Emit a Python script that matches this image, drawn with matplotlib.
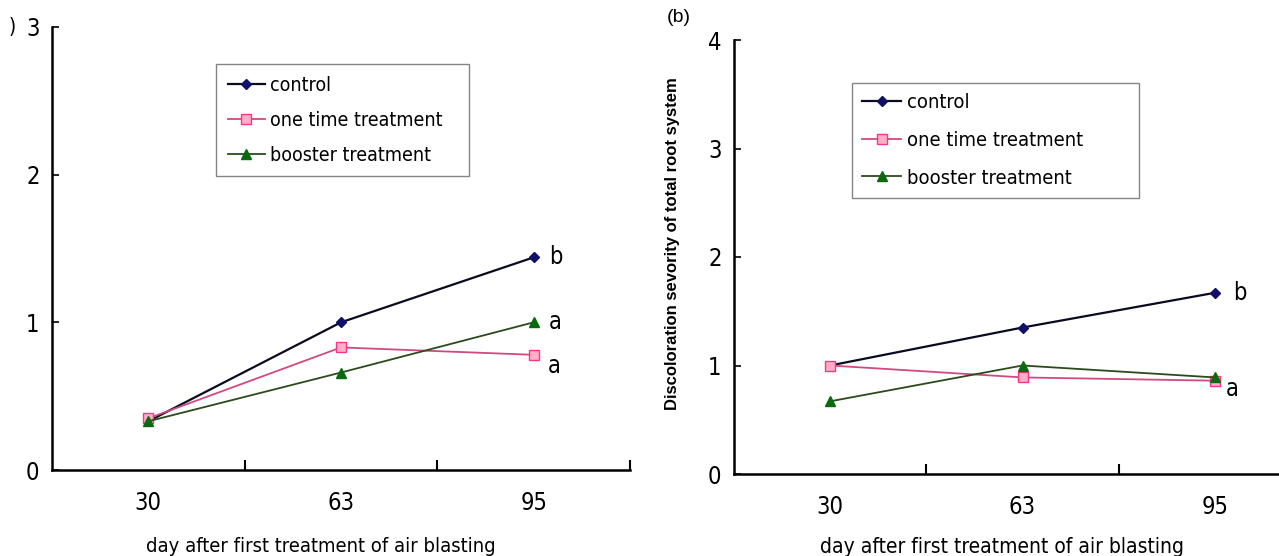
import numpy as np
import matplotlib.pyplot as plt

# data
days = ['30', '63', '95']
series = ['control', 'one time treatment', 'booster treatment']

# panel (a)
a_control = [0.33, 1.0, 1.44]
a_onetime = [0.35, 0.83, 0.78]
a_booster = [0.33, 0.66, 1.0]

# panel (b)
b_control = [1.0, 1.35, 1.67]
b_onetime = [1.0, 0.89, 0.86]
b_booster = [0.67, 1.0, 0.89]

# significance letters (series index, letter)
a_letters = [(0, 'b'), (2, 'a'), (1, 'a')]
b_letters = [(0, 'b'), (1, 'a')]

narrow = ['DejaVu Sans Condensed', 'Liberation Sans Narrow', 'DejaVu Sans']
plt.rcParams['font.family'] = narrow
plt.rcParams['font.stretch'] = 'condensed'

fig = plt.figure(figsize=(12.79, 5.56), dpi=100)
W, H = 1279, 556

def px_axes(x0, x1, y_top, y_bot):
    return fig.add_axes([x0 / W, 1 - y_bot / H, (x1 - x0) / W, (y_bot - y_top) / H])

ax1 = px_axes(52, 630, 27, 470)
ax2 = px_axes(734, 1311, 40, 474)

styles = [
    dict(color='#0a0a20', marker='D', markersize=5.5, mfc='#10106a', mec='#10106a', lw=1.6),
    dict(color='#d04a80', marker='s', markersize=6.5, mfc='#ffb0c8', mec='#ff3388', lw=1.3),
    dict(color='#2c4a1c', marker='^', markersize=7, mfc='#0a6a10', mec='#0a6a10', lw=1.3),
]

x = np.arange(1, len(days) + 1)

def draw(ax, ys, ymax):
    for y, name, st in zip(ys, series, styles):
        ax.plot(x, y, label=name, **st)
    ax.set_xlim(0.5, 3.5)
    ax.set_ylim(0, ymax)
    for s in ['top', 'right']:
        ax.spines[s].set_visible(False)
    ax.spines['left'].set_linewidth(1.8)
    ax.spines['bottom'].set_linewidth(1.8)
    ax.set_yticks(range(ymax + 1))
    ax.tick_params(axis='y', direction='in', length=5, width=1.2, labelsize=17, pad=9)
    # categorical x: labels at categories, tick marks at boundaries
    ax.set_xticks(x)
    ax.set_xticklabels(days)
    ax.tick_params(axis='x', which='major', length=0, labelsize=17, pad=15)
    ax.set_xticks([1.5, 2.5, 3.5], minor=True)
    ax.tick_params(axis='x', which='minor', direction='in', length=7, width=1.5)

draw(ax1, [a_control, a_onetime, a_booster], 3)
draw(ax2, [b_control, b_onetime, b_booster], 4)

ax1.set_xlabel('day after first treatment of air blasting', fontsize=14.5)
ax2.set_xlabel('day after first treatment of air blasting', fontsize=15)
ax1.xaxis.set_label_coords(0.465, -0.152)
ax2.xaxis.set_label_coords(0.464, -0.146)
ax1.xaxis.label.set_va('top')
ax2.xaxis.label.set_va('top')

def legend_box(ax, x0, x1, y_top, ax_px, fs, spacing, pad):
    # box position given in figure pixels, converted to axes fraction
    ax_x0, ax_x1, ax_top, ax_bot = ax_px
    bx = (x0 - ax_x0) / (ax_x1 - ax_x0)
    by = (ax_bot - y_top) / (ax_bot - ax_top)
    bw = (x1 - x0) / (ax_x1 - ax_x0)
    leg = ax.legend(loc='upper left', bbox_to_anchor=(bx, by - 0.01, bw, 0.01), mode='expand',
                    frameon=True, fancybox=False, edgecolor='#666666', fontsize=fs,
                    handlelength=1.9, handletextpad=0.3, borderpad=pad,
                    labelspacing=spacing, borderaxespad=0)
    leg.get_frame().set_linewidth(1.0)
    return leg

legend_box(ax1, 216, 469, 64, (52, 630, 27, 470), 14, 0.82, 0.6)
legend_box(ax2, 852, 1139, 83, (734, 1311, 40, 474), 14.5, 0.92, 0.52)

a_vals = [a_control, a_onetime, a_booster]
offs_a = {0: (11, 0), 2: (11, 0), 1: (10, -8)}
for i, letter in a_letters:
    ax1.annotate(letter, (3, a_vals[i][2]), xytext=offs_a[i], textcoords='offset points',
                 fontsize=17, va='center', ha='left')

b_vals = [b_control, b_onetime, b_booster]
offs_b = {0: (13, 0), 1: (8, -6)}
for i, letter in b_letters:
    ax2.annotate(letter, (3, b_vals[i][2]), xytext=offs_b[i], textcoords='offset points',
                 fontsize=17, va='center', ha='left')

ax2.set_ylabel('Discoloration sevority of total root system', fontsize=12,
               fontweight='bold', family=['Liberation Sans', 'DejaVu Sans'],
               fontstretch='normal')
ax2.yaxis.set_label_coords(-0.093, 0.53)

fig.text(12 / W, 1 - 27 / H, ')', fontsize=15, va='center', ha='center')
fig.text(679 / W, 1 - 18 / H, '(b)', fontsize=14, va='center', ha='center',
         family=['Liberation Sans', 'DejaVu Sans'], fontstretch='normal')

fig.savefig('out.png', dpi=100)
